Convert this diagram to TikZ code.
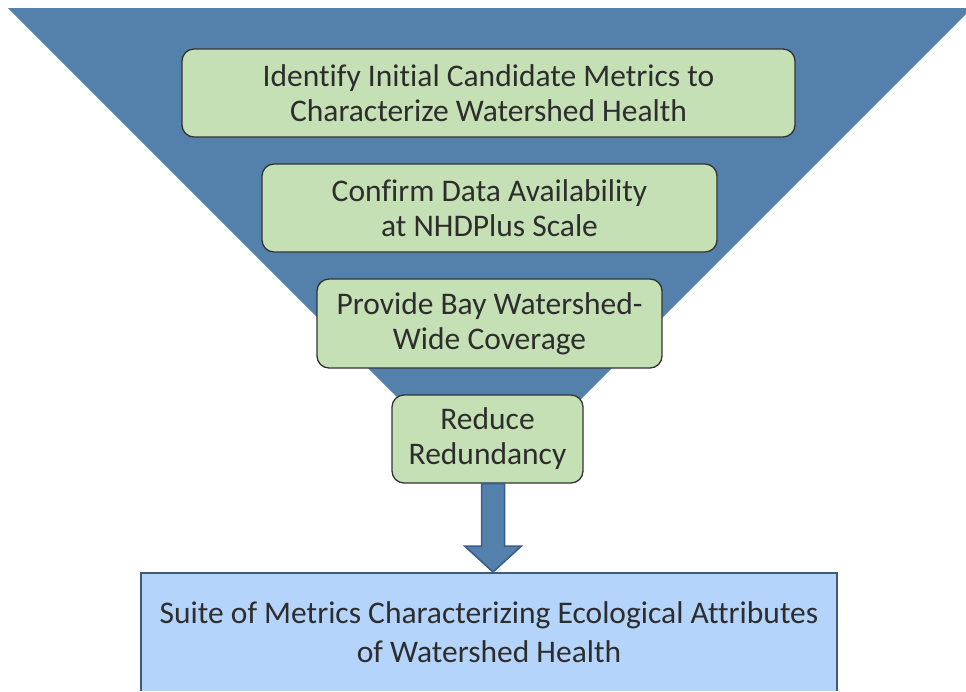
\documentclass[tikz,border=0pt]{standalone}
\usepackage{fontspec}
\setmainfont{Carlito}[Ligatures=NoCommon]
\usepackage{tikz}

\definecolor{funnelblue}{RGB}{84,129,172}
\definecolor{arrowedge}{RGB}{56,93,138}
\definecolor{stepgreen}{RGB}{197,224,180}
\definecolor{suiteblue}{RGB}{180,212,252}
\definecolor{suiteedge}{RGB}{62,92,122}
\definecolor{inkgray}{RGB}{45,45,45}

\tikzset{
 stepbox/.style={rectangle,rounded corners=12pt,draw=black!80,line width=1.3pt,
   fill=stepgreen,text=inkgray,align=center,font=\fontsize{31.5}{35}\selectfont},
 suitebox/.style={rectangle,fill=suiteblue,text=inkgray,align=center,
   font=\fontsize{31.5}{39}\selectfont},
 blockarrow/.style={fill=funnelblue,draw=arrowedge,line width=1.5pt,line join=miter}
}

\begin{document}
\begin{tikzpicture}[x=1pt,y=-1pt]
\useasboundingbox (0,0) rectangle (966,691);
\clip (0,0) rectangle (966,691);
\fill[funnelblue] (8,8) -- (972,8) -- (490,490) -- cycle;
\node [stepbox,minimum width=613,minimum height=88] (identify) at (488.5,93)
 {Identify Initial Candidate Metrics to\\Characterize Watershed Health};
\node [stepbox,minimum width=455,minimum height=88] (confirm) at (489.5,208)
 {Confirm Data Availability\\at NHDPlus Scale};
\node [stepbox,minimum width=345,minimum height=89] (provide) at (489.5,323.5)
 {Provide Bay Watershed-\\Wide Coverage};
\node [stepbox,minimum width=191,minimum height=88] (reduce) at (487.5,439)
 {Reduce\\Redundancy};
\node [suitebox,minimum width=696,minimum height=118] (suite) at (489,632)
 {Suite of Metrics Characterizing Ecological Attributes\\of Watershed Health};
\draw [suiteedge,line width=2pt] (suite.south west) -- (suite.north west)
 -- (suite.north east) -- (suite.south east);
\coordinate (tip) at (493,572);
\path (tip) ++(0,-26) coordinate (base);
\draw [blockarrow] ([xshift=-11.5pt]base |- reduce.south) -- ([xshift=-11.5pt]base)
 -- ([xshift=-28.5pt]base) -- (tip) -- ([xshift=28.5pt]base)
 -- ([xshift=11.5pt]base) -- ([xshift=11.5pt]base |- reduce.south) -- cycle;
\end{tikzpicture}
\end{document}
